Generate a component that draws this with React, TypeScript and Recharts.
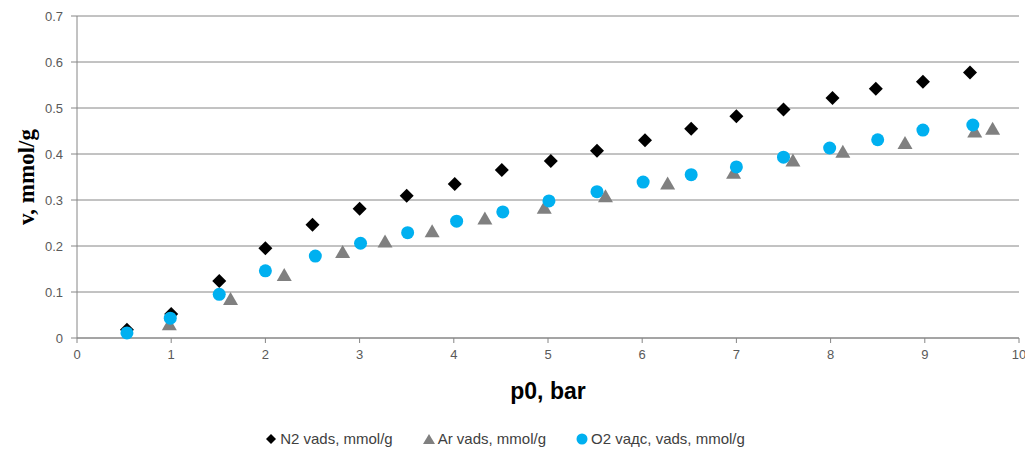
import React from "react";
import {
  CartesianGrid,
  Scatter,
  ScatterChart,
  XAxis,
  YAxis,
} from "recharts";

// pressure (bar) and adsorbed amount (mmol/g) per gas
const n2Pressure = [0.53, 1.0, 1.51, 2.0, 2.5, 3.0, 3.5, 4.01, 4.51, 5.03, 5.52, 6.03, 6.52, 7.0, 7.5, 8.02, 8.48, 8.98, 9.48];
const n2Amount = [0.018, 0.052, 0.124, 0.195, 0.246, 0.281, 0.309, 0.335, 0.365, 0.385, 0.407, 0.43, 0.455, 0.482, 0.497, 0.522, 0.542, 0.557, 0.577];

const arPressure = [0.98, 1.63, 2.2, 2.82, 3.27, 3.77, 4.33, 4.96, 5.61, 6.27, 6.97, 7.6, 8.13, 8.79, 9.53, 9.72];
const arAmount = [0.03, 0.085, 0.137, 0.187, 0.21, 0.232, 0.26, 0.283, 0.308, 0.336, 0.359, 0.386, 0.405, 0.424, 0.449, 0.455];

const o2Pressure = [0.53, 0.99, 1.51, 2.0, 2.53, 3.01, 3.51, 4.03, 4.52, 5.01, 5.52, 6.01, 6.52, 7.0, 7.5, 7.99, 8.5, 8.98, 9.51];
const o2Amount = [0.011, 0.043, 0.095, 0.146, 0.178, 0.206, 0.229, 0.254, 0.274, 0.298, 0.318, 0.339, 0.355, 0.372, 0.393, 0.413, 0.431, 0.452, 0.463];

const xTicks = [0, 1, 2, 3, 4, 5, 6, 7, 8, 9, 10];
const yTicks = [0, 0.1, 0.2, 0.3, 0.4, 0.5, 0.6, 0.7];

const zip = (xs: number[], ys: number[]) => xs.map((p, i) => ({ p, v: ys[i] }));

const n2Data = zip(n2Pressure, n2Amount);
const arData = zip(arPressure, arAmount);
const o2Data = zip(o2Pressure, o2Amount);

const AXIS = "#868686";
const TICK_FONT = "'Liberation Sans', Arial, sans-serif";

const Diamond = (props: any) => {
  const { cx, cy } = props;
  const r = 7;
  return <path d={`M${cx},${cy - r}L${cx + r},${cy}L${cx},${cy + r}L${cx - r},${cy}Z`} fill="#000000" />;
};

const Triangle = (props: any) => {
  const { cx, cy } = props;
  return <path d={`M${cx},${cy - 7}L${cx + 7.5},${cy + 6}L${cx - 7.5},${cy + 6}Z`} fill="#808080" />;
};

const Dot = (props: any) => <circle cx={props.cx} cy={props.cy} r={6.5} fill="#00b0f0" />;

const YTitle = (props: any) => {
  const vb = props.viewBox;
  const cy = vb.y + vb.height / 2;
  return (
    <text
      x={26}
      y={cy}
      transform={`rotate(-90, 26, ${cy})`}
      textAnchor="middle"
      dominantBaseline="central"
      fontFamily="'Liberation Serif', 'Times New Roman', serif"
      fontWeight="bold"
      fontSize={23}
      fill="#000"
    >
      v, mmol/g
    </text>
  );
};

const XTitle = (props: any) => {
  const vb = props.viewBox;
  return (
    <text
      x={vb.x + vb.width / 2}
      y={vb.y + 61}
      textAnchor="middle"
      fontFamily={TICK_FONT}
      fontWeight="bold"
      fontSize={23}
      fill="#000"
    >
      p0, bar
    </text>
  );
};

const legendItems = [
  { label: "N2 vads, mmol/g", icon: <path d="M6,1L11,6L6,11L1,6Z" fill="#000" /> },
  { label: "Ar vads, mmol/g", icon: <path d="M6,1L12,11L0,11Z" fill="#808080" /> },
  { label: "O2 vадс, vads, mmol/g", icon: <circle cx={6} cy={6} r={5.5} fill="#00b0f0" /> },
];

export default function App() {
  return (
    <div style={{ position: "relative", width: 1025, height: 454, background: "#fff" }}>
      <style>{"body{margin:0}"}</style>
      <ScatterChart
        width={1025}
        height={454}
        margin={{ top: 16, right: 6, bottom: 46, left: 0 }}
      >
        <CartesianGrid vertical={false} stroke={AXIS} strokeWidth={1} />
        <XAxis
          type="number"
          dataKey="p"
          domain={[0, 10]}
          ticks={xTicks}
          interval={0}
          height={70}
          stroke={AXIS}
          tickSize={5}
          tickMargin={7}
          tick={{ fill: "#595959", fontSize: 13, fontFamily: TICK_FONT }}
          label={<XTitle />}
        />
        <YAxis
          type="number"
          dataKey="v"
          domain={[0, 0.7]}
          ticks={yTicks}
          interval={0}
          width={77}
          stroke={AXIS}
          tickSize={6}
          tickMargin={8}
          tickFormatter={(v: number) => String(v)}
          tick={{ fill: "#595959", fontSize: 13, fontFamily: TICK_FONT }}
          label={<YTitle />}
        />
        <Scatter name="N2 vads, mmol/g" data={n2Data} shape={Diamond} isAnimationActive={false} />
        <Scatter name="Ar vads, mmol/g" data={arData} shape={Triangle} isAnimationActive={false} />
        <Scatter name="O2 vадс, vads, mmol/g" data={o2Data} shape={Dot} isAnimationActive={false} />
      </ScatterChart>
      <div
        style={{
          position: "absolute",
          top: 430,
          left: 0,
          width: 1010,
          display: "flex",
          justifyContent: "center",
          gap: 30,
          fontFamily: TICK_FONT,
          fontSize: 15,
          color: "#404040",
        }}
      >
        {legendItems.map((item) => (
          <div key={item.label} style={{ display: "flex", alignItems: "center", gap: 3 }}>
            <svg width={12} height={12}>{item.icon}</svg>
            <span>{item.label}</span>
          </div>
        ))}
      </div>
    </div>
  );
}
